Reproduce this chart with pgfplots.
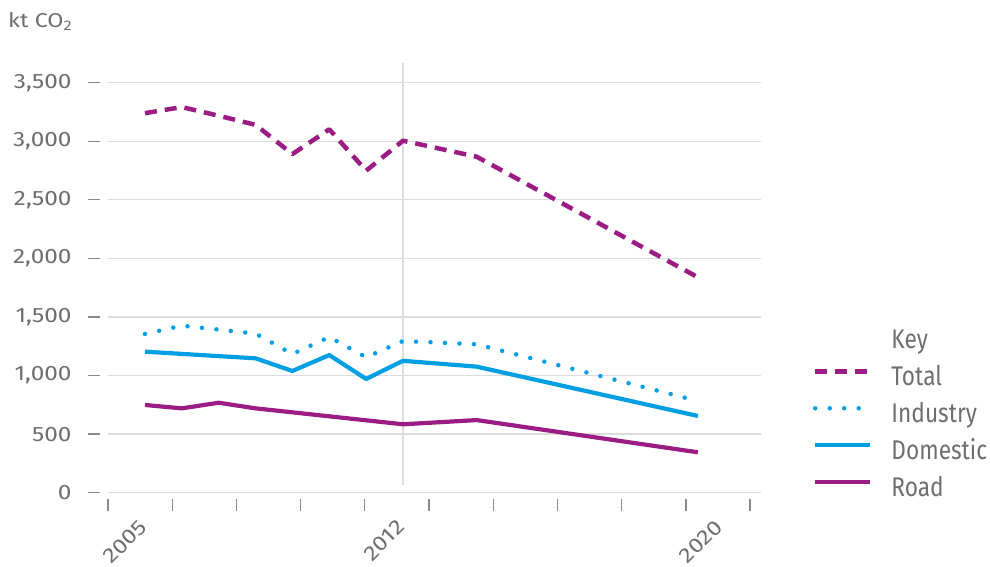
\documentclass[border=0pt]{standalone}
\usepackage{pgfplots}
\pgfplotsset{compat=1.18}
\usepackage{fontspec}
\setmainfont{Fira Sans}
\newfontfamily\legfont[FakeStretch=0.84]{Fira Sans}
\newfontfamily\tickfont[FakeStretch=1.17]{Fira Sans}
\definecolor{purp}{HTML}{9B1D84}
\definecolor{blu}{HTML}{009FE3}
\definecolor{txt}{HTML}{6E6E6E}
\definecolor{grd}{HTML}{DCDCDC}
\definecolor{tk}{HTML}{8A8A8A}
\begin{document}
\begin{tikzpicture}
\useasboundingbox (0,0) rectangle (990pt,-567pt);
\node[anchor=base west, text=txt, font=\tickfont\fontsize{20}{24}\selectfont, inner sep=0pt] at (8pt,-27.3pt) {kt CO\textsubscript{2}};
\begin{axis}[
  at={(108pt,-492.7pt)}, anchor=south west,
  width=653pt, height=410pt, scale only axis,
  xmin=2003.996, xmax=2021.713, ymin=0, ymax=3500,
  clip=false,
  axis line style={draw=none},
  tick pos=left,
  ytick={0,500,...,3500},
  ymajorgrids, grid style={grd, line width=1.3pt},
  xtick={2003.996,2005.738,2007.480,2009.222,2010.964,2012.706,2014.448,2016.190,2017.932,2019.674,2021.416},
  xticklabel=\empty,
  tick align=outside, major tick length=12pt,
  xtick style={yshift=-6pt, draw=tk, line width=1.3pt},
  ytick style={xshift=-8pt, draw=tk, line width=1.3pt},
  yticklabel style={font=\tickfont\fontsize{20.8}{24}\selectfont, text=txt, xshift=-21pt},
  /pgf/number format/assume math mode=true,
  /pgf/number format/1000 sep={,},
  scaled y ticks=false,
  legend style={at={(axis description cs:1.0796,0.401)}, anchor=north west, draw=none, fill=none,
    inner sep=0pt, outer sep=0pt, column sep=19pt, row sep=11pt,
    font=\legfont\fontsize{27}{30}\selectfont, text=txt,
    nodes={inner sep=0pt, text height=20pt, text depth=6pt}},
  legend cell align=left,
  legend image code/.code={\path[draw=none, fill=none] (0pt,-13pt) rectangle (55pt,13pt); \draw[#1] (0pt,7pt) -- (55pt,7pt);},
]
\addplot[grd!90!black!60, line width=2pt, forget plot] coordinates {(2012,66) (2012,3668)};
\addlegendimage{empty legend}
\addlegendentry{Key}
\addplot[purp, line width=4.5pt, dash pattern=on 12pt off 8pt, line join=round] coordinates {
(2005,3240) (2006,3292) (2007,3218) (2008,3140) (2009,2891) (2010,3102) (2011,2749) (2012,3005) (2014,2868) (2020,1839)};
\addlegendentry{Total}
\addplot[blu, line width=4.5pt, dash pattern=on 0pt off 14.5pt, line cap=round, line join=round] coordinates {
(2005,1355) (2006,1426) (2007,1392) (2008,1358) (2009,1184) (2010,1329) (2011,1156) (2012,1295) (2014,1267) (2020,783)};
\addlegendentry{Industry}
\addplot[blu, line width=4.2pt, line join=round] coordinates {
(2005,1204) (2006,1185) (2007,1166) (2008,1147) (2009,1039) (2010,1175) (2011,971) (2012,1126) (2014,1076) (2020,655)};
\addlegendentry{Domestic}
\addplot[purp, line width=4.2pt, line join=round] coordinates {
(2005,749) (2006,720) (2007,768) (2008,720) (2009,686) (2010,652) (2011,618) (2012,584) (2014,620) (2020,345)};
\addlegendentry{Road}
\node[rotate=45, anchor=east, inner sep=0pt, text=txt, font=\tickfont\fontsize{20.8}{24}\selectfont] at (axis cs:2004.95,-262) {2005};
\node[rotate=45, anchor=east, inner sep=0pt, text=txt, font=\tickfont\fontsize{20.8}{24}\selectfont] at (axis cs:2011.95,-262) {2012};
\node[rotate=45, anchor=east, inner sep=0pt, text=txt, font=\tickfont\fontsize{20.8}{24}\selectfont] at (axis cs:2020.57,-262) {2020};
\end{axis}
\end{tikzpicture}
\end{document}
